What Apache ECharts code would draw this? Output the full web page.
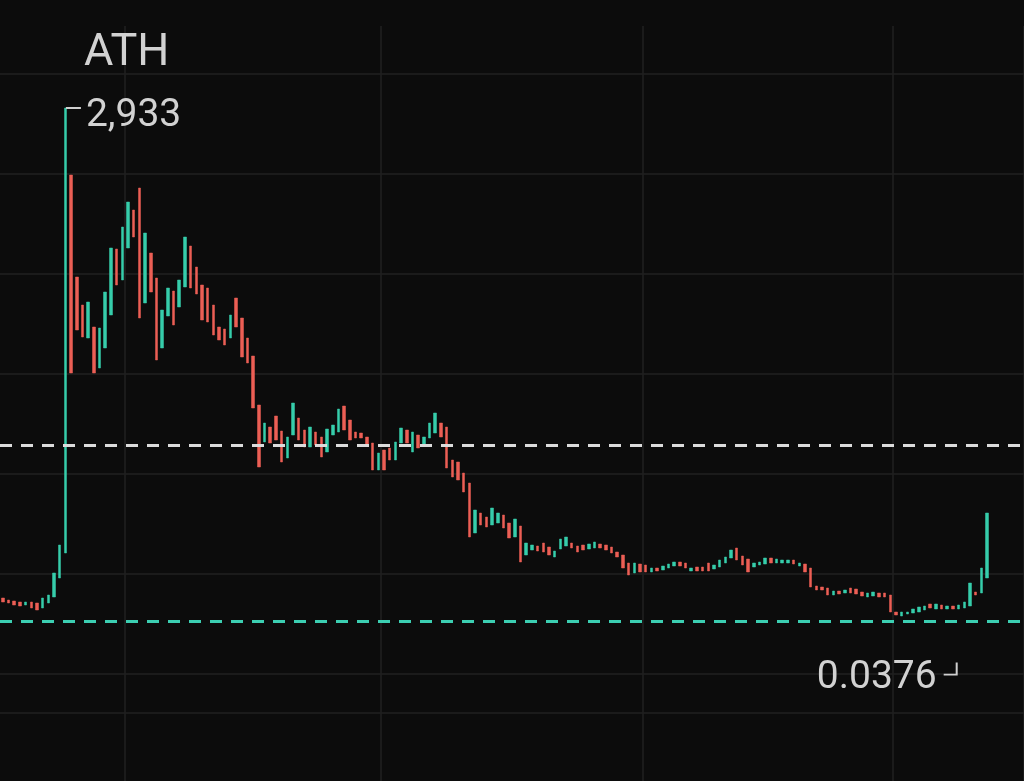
<!DOCTYPE html>
<html><head><meta charset="utf-8">
<script src="https://cdn.jsdelivr.net/npm/echarts@6/dist/echarts.min.js"></script>
<style>html,body{margin:0;padding:0;background:#0c0c0c;}#chart{width:1024px;height:781px;}</style>
</head><body><div id="chart"></div>
<script>
// Candle bodies in chart units (0 = bottom grid line)
const opens = [
  76,74,73,72,69,72,71,66,71,77,96,121,
  499,397,369,336,347,306,326,359,425,394,426,464,486,371,421,396,326,358,383,367,387,428,407,389,386,369,347,345,336,376,356,336,318,269,
  232,247,258,243,216,239,256,244,227,242,237,222,239,242,268,254,242,241,237,231,204,224,226,214,231,244,222,239,229,236,241,251,247,
  214,212,201,191,141,161,157,149,151,159,151,137,148,119,124,128,131,127,117,125,128,131,128,129,125,126,130,129,127,122,119,111,101,
  110,109,102,106,104,106,108,112,111,103,107,107,111,105,107,111,116,126,118,115,107,109,110,116,111,111,111,114,108,110,106,
  88,87,86,79,83,81,86,85,82,77,78,81,81,79,62,58,60,61,62,64,70,65,69,65,68,65,66,68,82,81,96
];
const closes = [
  72,71,69,68,72,66,64,76,79,101,129,566,
  301,344,337,372,301,346,382,426,389,447,472,437,356,441,382,314,364,386,349,394,437,386,380,354,352,339,334,329,359,347,317,311,266,207,
  251,231,234,212,237,271,234,227,247,229,217,245,249,265,244,234,236,236,229,204,221,204,214,232,246,231,242,226,237,251,261,237,206,
  197,194,182,137,164,149,147,166,161,146,136,155,112,131,129,123,122,119,123,135,137,126,122,124,130,132,126,124,121,117,106,99,111,
  102,102,106,103,108,110,112,108,106,106,103,103,103,109,114,117,124,114,109,102,111,112,116,111,115,114,114,110,111,102,87,
  84,84,79,83,80,84,81,80,78,81,82,77,77,62,59,62,62,65,67,68,66,70,65,68,65,69,72,91,79,106,161
];
const slotCount = 180;                 // time slots on the x axis (last ones still empty)
const gridColumns = [22, 67, 113, 157]; // slots where vertical grid lines fall
const lastPriceLevel = 229;            // white dashed line
const supportLevel = 53;               // teal dashed line
const athLabel = 'ATH';
const athText = '2,933';
const lowText = '0.0376';

const GREEN = '#36cdab', RED = '#ec5f55', GRID = '#202020', TEXT = '#d2d2d2';
const categories = Array.from({length: slotCount}, (_, i) => 'T' + (i + 1));
const candles = opens.map((o, i) => [o, closes[i], Math.min(o, closes[i]), Math.max(o, closes[i])]);
let athIndex = 0, lowIndex = 0;
candles.forEach((c, i) => { if (c[3] > candles[athIndex][3]) athIndex = i; if (c[2] < candles[lowIndex][2]) lowIndex = i; });
const onGridColumn = (idx) => gridColumns.indexOf(idx) >= 0;

const chart = echarts.init(document.getElementById('chart'));
chart.setOption({
  backgroundColor: '#0c0c0c',
  animation: false,
  title: {text: athLabel, left: 79, top: 26, textStyle: {color: TEXT, fontSize: 45, fontWeight: 'normal', fontFamily: 'Roboto'}},
  grid: {left: 0, right: 0, top: 26, bottom: 107},
  xAxis: [{
    type: 'category', data: categories, boundaryGap: true,
    axisLine: {show: false},
    axisLabel: {show: false},
    axisTick: {show: true, interval: onGridColumn, length: 107, lineStyle: {color: GRID, width: 1.5}},
    splitLine: {show: true, interval: onGridColumn, lineStyle: {color: GRID, width: 1.5}}
  }, {
    type: 'category', data: categories, position: 'bottom', offset: 39,
    axisLine: {show: true, lineStyle: {color: GRID, width: 1.5}},
    axisLabel: {show: false}, axisTick: {show: false}, splitLine: {show: false}
  }],
  yAxis: {
    type: 'value', min: 0, max: 648, interval: 100, position: 'right',
    axisLine: {show: false}, axisLabel: {show: false}, axisTick: {show: false},
    splitLine: {show: true, showMaxLine: false, lineStyle: {color: GRID, width: 1.5}}
  },
  series: [{
    type: 'candlestick',
    xAxisIndex: 0,
    data: candles,
    barWidth: 3,
    itemStyle: {color: GREEN, color0: RED, borderColor: GREEN, borderColor0: RED, borderWidth: 0.5},
    markLine: {
      silent: true, symbol: ['none', 'none'], label: {show: false}, animation: false,
      data: [
        {yAxis: lastPriceLevel, lineStyle: {color: '#dcdcdc', width: 3, type: [12, 9]}},
        {yAxis: supportLevel, lineStyle: {color: '#3ccfb2', width: 3, type: [12, 9]}}
      ]
    },
    markPoint: {
      silent: true, animation: false,
      data: [
        {coord: [athIndex, candles[athIndex][3]], symbol: 'rect', symbolSize: [15, 2], symbolOffset: [8, 0],
         itemStyle: {color: '#cfcfcf'},
         label: {show: true, position: 'right', distance: 5, offset: [0, 8], formatter: athText,
                 color: TEXT, fontSize: 39, fontFamily: 'Roboto'}},
        {coord: [lowIndex, candles[lowIndex][2]], symbol: 'path://M12,0 L14,0 L14,14 L0,14 L0,12 L12,12 Z',
         symbolSize: [14, 13], symbolOffset: [49, 53], itemStyle: {color: '#cfcfcf'},
         label: {show: true, position: 'left', distance: 7, offset: [0, 9], formatter: lowText,
                 color: TEXT, fontSize: 39, fontFamily: 'Roboto'}}
      ]
    }
  }]
});
</script></body></html>
